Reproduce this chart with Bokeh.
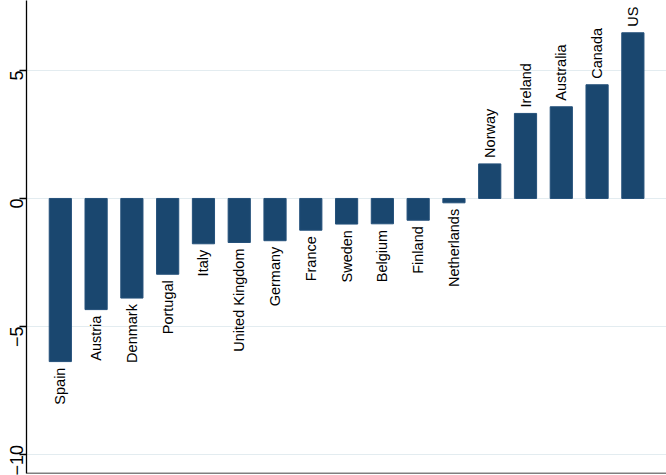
import math
from bokeh.plotting import figure
from bokeh.models import ColumnDataSource, Range1d, FixedTicker, Span
from bokeh.core.properties import value
from bokeh.embed import file_html
from bokeh.resources import INLINE

countries = ["Spain", "Austria", "Denmark", "Portugal", "Italy", "United Kingdom",
             "Germany", "France", "Sweden", "Belgium", "Finland", "Netherlands",
             "Norway", "Ireland", "Australia", "Canada", "US"]
values = [-6.37, -4.34, -3.89, -2.96, -1.77, -1.72, -1.65, -1.24, -1.00, -0.99,
          -0.85, -0.17, 1.35, 3.32, 3.58, 4.44, 6.47]
y_ticks = [-10, -5, 0, 5]

BAR = "#1a476f"
FONT = "Liberation Sans"
Y_MIN, Y_MAX = -10.74, 7.73

pos_idx = list(range(len(countries)))
src = ColumnDataSource(dict(x=pos_idx, top=values, name=countries))
neg = ColumnDataSource(dict(x=[i for i, v in zip(pos_idx, values) if v < 0],
                            y=[v for v in values if v < 0],
                            name=[c for c, v in zip(countries, values) if v < 0]))
pos = ColumnDataSource(dict(x=[i for i, v in zip(pos_idx, values) if v >= 0],
                            y=[v for v in values if v >= 0],
                            name=[c for c, v in zip(countries, values) if v >= 0]))

p = figure(width=666, height=475, output_backend="svg", toolbar_location=None,
           x_range=Range1d(-0.945, 16.94),
           y_range=Range1d(Y_MIN, Y_MAX),
           min_border_left=0, min_border_right=0, min_border_top=0, min_border_bottom=2)
p.outline_line_color = None
p.background_fill_color = "white"
p.border_fill_color = "white"

p.vbar(x="x", top="top", bottom=0, width=0.62, source=src,
       fill_color=BAR, line_color="#24507a", line_width=1)

p.text(x="x", y="y", text="name", source=neg, angle=math.pi / 2, text_align="right",
       text_baseline="middle", y_offset=6, text_font=value(FONT),
       text_font_size="14.5px", text_color="black")
p.text(x="x", y="y", text="name", source=pos, angle=math.pi / 2, text_align="left",
       text_baseline="middle", y_offset=-6, text_font=value(FONT),
       text_font_size="14.5px", text_color="black")

# y axis
ya = p.yaxis[0]
ya.ticker = FixedTicker(ticks=y_ticks)
ya.major_label_orientation = math.pi / 2
ya.major_label_text_font = FONT
ya.major_label_text_font_size = "18px"
ya.major_label_text_color = "black"
ya.major_label_standoff = 3
ya.major_tick_out = 7
ya.major_tick_in = 0
ya.minor_tick_line_color = None
ya.axis_line_color = "black"
ya.axis_line_width = 1.3
ya.major_tick_line_color = "black"
ya.major_tick_line_width = 1.3

# bottom axis line only (no ticks, no labels)
p.xaxis.visible = False
p.add_layout(Span(location=Y_MIN, dimension="width", line_color="black",
                  line_width=1.3))

p.xgrid.grid_line_color = None
p.ygrid.ticker = FixedTicker(ticks=y_ticks)
p.ygrid.grid_line_color = "#e3ecf0"
p.ygrid.grid_line_width = 1.2

open("out.html", "w").write(file_html(p, INLINE))
